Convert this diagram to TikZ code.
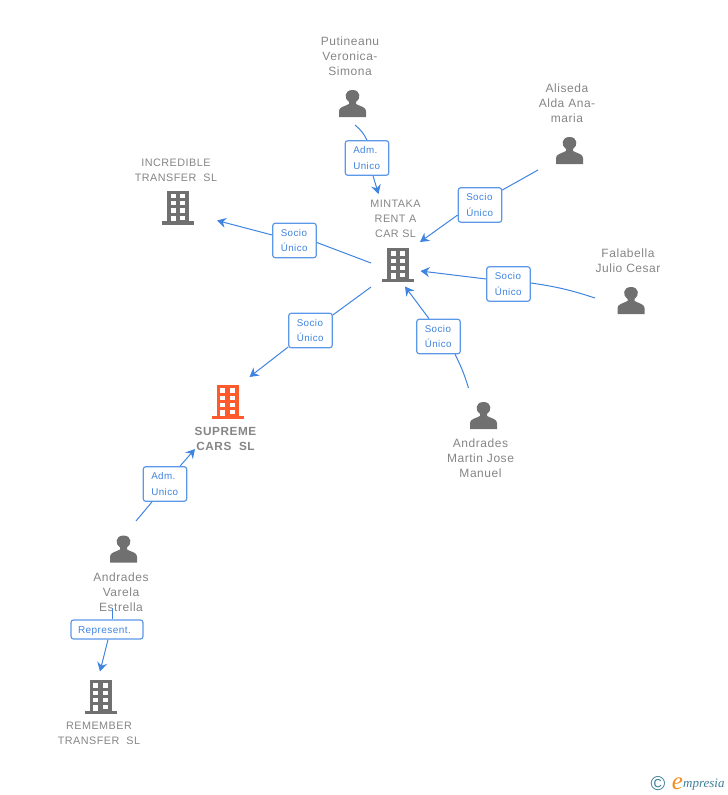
\documentclass[tikz,border=0pt]{standalone}
\usepackage{fontspec}
\setmainfont{Liberation Sans}[LetterSpace=4.5]
\newfontfamily\logofont{Liberation Serif}
\usetikzlibrary{arrows.meta}
\definecolor{iconGrey}{HTML}{707070}
\definecolor{textGrey}{HTML}{858585}
\definecolor{linkBlue}{HTML}{3F84E0}
\definecolor{boxBlue}{HTML}{5C98E8}
\definecolor{mainOrange}{HTML}{FF5A2B}
\definecolor{logoTeal}{HTML}{3D7F99}
\definecolor{logoOrange}{HTML}{F28C1E}
\tikzstyle{boxLink} = [rectangle, rounded corners=2.5pt, draw=boxBlue, line width=1.2pt, fill=white, text=linkBlue, align=left, inner sep=0pt, minimum height=34.5pt, font=\fontsize{9.8}{15.2}\selectfont]
\tikzstyle{boxSocio} = [boxLink, minimum width=43.5pt, text width=27.5pt]
\tikzstyle{boxRepresent} = [boxLink, minimum width=72pt, minimum height=19pt, text width=58pt, text height=8.5pt, text depth=1pt, font=\fontsize{10}{15}\selectfont]
\tikzstyle{person} = [text=textGrey, align=center, inner sep=0pt, font=\fontsize{12}{15}\selectfont]
\tikzstyle{company} = [text=textGrey, align=center, inner sep=0pt, font=\fontsize{10.8}{15}\selectfont]
\tikzstyle{line} = [draw=linkBlue, line width=1pt]
\tikzstyle{arrow} = [line, -{Stealth[length=9pt,width=10pt,inset=3pt]}]
\tikzset{
  personIcon/.pic={
    \fill[iconGrey] (-13.5,13) -- (-13.5,7) .. controls (-13.5,3) and (-8,2.5) .. (-3.5,0)
      -- (-3.5,-2) .. controls (-8.5,-5) and (-8.5,-14) .. (0,-14)
      .. controls (8.5,-14) and (8.5,-5) .. (3.5,-2) -- (3.5,0)
      .. controls (8,2.5) and (13.5,3) .. (13.5,7) -- (13.5,13) -- cycle;
  },
  buildingIcon/.pic={
    \fill[#1] (-11,-17) rectangle (11,15);
    \fill[#1] (-16,13.7) rectangle (16,17);
    \foreach \rowY in {-13.7,-6.5,0.8} {
      \fill[white] (-7.3,\rowY) rectangle (-2.3,\rowY+4.4);
      \fill[white] (2,\rowY) rectangle (7,\rowY+4.4);
    }
    \fill[white] (-7.3,8) rectangle (-2.3,13.7);
    \fill[white] (2,8) rectangle (7,12.3);
  }
}

\begin{document}
\begin{tikzpicture}[x=1pt,y=-1pt]
\useasboundingbox (0,0) rectangle (728,795);

% icons
\pic at (352.5,104) {personIcon};
\pic at (569.5,151) {personIcon};
\pic at (631,301) {personIcon};
\pic at (483.5,416) {personIcon};
\pic at (123.5,549.5) {personIcon};
\pic at (178,207.5) {buildingIcon=iconGrey};
\pic at (398,265) {buildingIcon=iconGrey};
\pic at (227.5,402) {buildingIcon=mainOrange};
\pic at (100.5,697) {buildingIcon=iconGrey};

% names
\node (putineanu) [person] at (350,56) {Putineanu\\Veronica-\\Simona};
\node (aliseda) [person] at (567,103) {Aliseda\\Alda Ana-\\maria};
\node (falabella) [person] at (628,260.5) {Falabella\\Julio Cesar};
\node (martin) [person] at (480.5,458) {Andrades\\Martin Jose\\Manuel};
\node (varela) [person] at (121,592) {Andrades\\Varela\\Estrella};
\node (incredible) [company] at (176,170) {INCREDIBLE\\TRANSFER\ \ SL};
\node (mintaka) [company] at (395.5,219) {MINTAKA\\RENT A\\CAR SL};
\node (supreme) [company, font=\fontsize{11.8}{15}\selectfont\bfseries] at (225.5,438.5) {SUPREME\\CARS\ \ SL};
\node (remember) [company] at (99,733.5) {REMEMBER\\TRANSFER\ \ SL};

% free ends of the connectors
\coordinate (fromPutineanu) at (355,125);
\coordinate (toMintakaTop) at (378.5,194);
\coordinate (fromAliseda) at (538,170);
\coordinate (toMintakaRight) at (420,242);
\coordinate (fromFalabella) at (595,298);
\coordinate (toMintakaSide) at (420.5,271);
\coordinate (fromMartin) at (468.5,388);
\coordinate (toMintakaBottom) at (405,286.5);
\coordinate (fromMintakaLeft) at (371,263);
\coordinate (toIncredible) at (217,220.5);
\coordinate (fromMintakaBottom) at (371,287);
\coordinate (toSupremeTop) at (249.5,377);
\coordinate (fromVarela) at (136,521);
\coordinate (toSupreme) at (195,449);
\coordinate (fromVarelaName) at (112,608);
\coordinate (toRemember) at (100,671.5);

% labels
\node (admPutineanu) [boxSocio] at (367,158) {Adm.\\Unico};
\node (socioAliseda) [boxSocio] at (480,205) {Socio\\Único};
\node (socioFalabella) [boxSocio] at (508.5,284) {Socio\\Único};
\node (socioMartin) [boxSocio] at (438.5,336.5) {Socio\\Único};
\node (socioIncredible) [boxSocio] at (294.5,240.5) {Socio\\Único};
\node (socioSupreme) [boxSocio] at (310.5,330.5) {Socio\\Único};
\node (admVarela) [boxSocio] at (165,484) {Adm.\\Unico};
\node (representVarela) [boxRepresent] at (107,629.5) {Represent.};

\draw [line] (fromPutineanu) to[bend left=12] (admPutineanu.north);
\draw [arrow] ([xshift=6pt]admPutineanu.south) -- (toMintakaTop);
\draw [line] (fromAliseda) -- ([yshift=15pt]socioAliseda.east);
\draw [arrow] ([yshift=-10pt]socioAliseda.west) -- (toMintakaRight);
\draw [line] (fromFalabella) to[bend right=5] ([yshift=1pt]socioFalabella.east);
\draw [arrow] ([yshift=5pt]socioFalabella.west) -- (toMintakaSide);
\draw [line] (fromMartin) to[bend right=5] ([xshift=16.5pt]socioMartin.south);
\draw [arrow] ([xshift=-9.5pt]socioMartin.north) -- (toMintakaBottom);
\draw [line] (fromMintakaLeft) -- ([yshift=-2pt]socioIncredible.east);
\draw [arrow] ([yshift=5.5pt]socioIncredible.west) -- (toIncredible);
\draw [line] (fromMintakaBottom) -- ([yshift=15.5pt]socioSupreme.east);
\draw [arrow] ([yshift=-16.5pt]socioSupreme.west) -- (toSupremeTop);
\draw [line] (fromVarela) -- ([xshift=-13pt]admVarela.south);
\draw [arrow] ([xshift=15pt]admVarela.north) -- (toSupreme);
\draw [line] (fromVarelaName) -- (representVarela.north -| fromVarelaName);
\draw [arrow] ([xshift=1pt]representVarela.south) -- (toRemember);

% logo
\node (logoCopy) [text=logoTeal, inner sep=0pt, font=\fontsize{20}{20}\selectfont] at (658,784) {©};
\node (logoE) [anchor=base, text=logoOrange, inner sep=0pt, font=\logofont\fontsize{25}{25}\selectfont\itshape] at (677.5,789) {e};
\node (logoText) [anchor=base west, text=logoTeal, inner sep=0pt, font=\logofont\fontsize{13}{13}\selectfont\itshape] at (683,787) {mpresia};
\end{tikzpicture}
\end{document}
